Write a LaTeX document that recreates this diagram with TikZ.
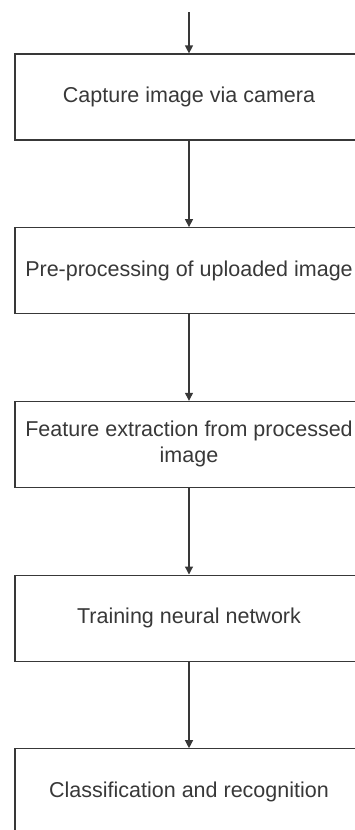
\documentclass[tikz,border=0pt]{standalone}
\usepackage{fontspec}
\setmainfont{Liberation Sans}
\usetikzlibrary{positioning,arrows.meta}

\begin{document}
\begin{tikzpicture}[x=1pt,y=1pt,
  stepbox/.style={draw=black!78, line width=1.2pt, minimum width=348pt,
    minimum height=86pt, inner sep=0pt, text=black!78, align=center,
    font=\fontsize{21.5}{26}\selectfont},
  flow/.style={draw=black!78, line width=1.2pt,
    -{Triangle[width=8pt,length=8pt]}}]
  \useasboundingbox (0,0) rectangle (354,-830);

  \coordinate (start) at (189,-12);
  \node[stepbox] (capture) at (189,-97) {Capture image via camera};
  \node[stepbox, below=86.5pt of capture] (preproc) {Pre-processing of uploaded image};
  \node[stepbox, below=86.5pt of preproc] (features) {Feature extraction from processed\\image};
  \node[stepbox, below=86.5pt of features] (training) {Training neural network};
  \node[stepbox, below=86.5pt of training] (classify) {Classification and recognition};

  \draw[flow] (start) -- (capture);
  \draw[flow] (capture) -- (preproc);
  \draw[flow] (preproc) -- (features);
  \draw[flow] (features) -- (training);
  \draw[flow] (training) -- (classify);
\end{tikzpicture}
\end{document}
